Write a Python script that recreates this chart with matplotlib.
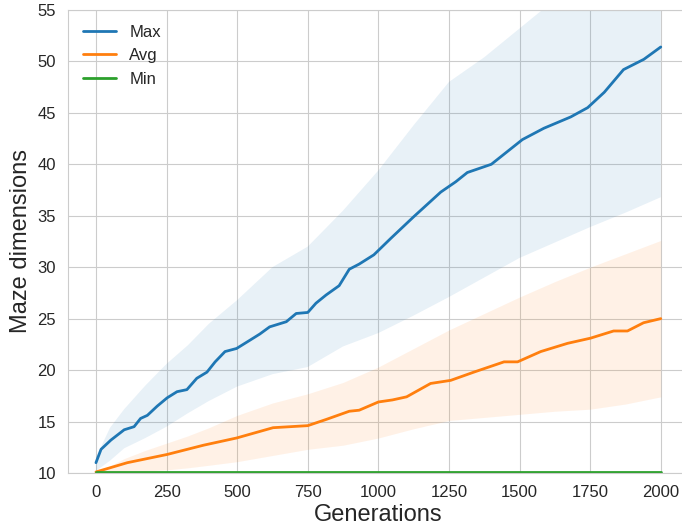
import numpy as np
import seaborn as sns
import matplotlib
matplotlib.use('Agg')
import matplotlib.pyplot as plt

# values
gens_max = [0, 18, 53, 100, 135, 158, 182, 217, 252, 287, 322, 357, 393, 422, 457, 498,
            545, 580, 615, 674, 709, 750, 779, 815, 861, 897, 932, 984, 1044, 1125, 1221,
            1274, 1315, 1400, 1510, 1586, 1681, 1741, 1800, 1868, 1940, 2000]
max_vals = [11.0, 12.3, 13.2, 14.2, 14.5, 15.3, 15.6, 16.5, 17.3, 17.9, 18.1, 19.2, 19.8, 20.8,
            21.8, 22.1, 22.9, 23.5, 24.2, 24.7, 25.5, 25.6, 26.5, 27.3, 28.2, 29.8, 30.3, 31.2,
            32.8, 34.9, 37.3, 38.3, 39.2, 40.0, 42.4, 43.5, 44.6, 45.5, 47.0, 49.2, 50.2, 51.4]

gens_avg = [0, 111, 252, 381, 498, 627, 750, 815, 897, 932, 1000, 1050, 1100, 1185, 1256,
            1338, 1445, 1493, 1575, 1670, 1751, 1833, 1882, 1939, 2000]
avg_vals = [10.1, 11.0, 11.8, 12.7, 13.4, 14.4, 14.6, 15.2, 16.0, 16.1, 16.9, 17.1, 17.4, 18.7,
            19.0, 19.8, 20.8, 20.8, 21.8, 22.6, 23.1, 23.8, 23.8, 24.6, 25.0]

gens_min = [0, 2000]
min_vals = [10.1, 10.1]

# spread bands
gens_band = [0, 50, 100, 175, 250, 325, 400, 500, 625, 750, 875, 1000, 1125, 1250,
             1375, 1500, 1625, 1750, 1875, 2000]
max_hi = [11.5, 14.4, 16.2, 18.5, 20.6, 22.4, 24.5, 26.8, 30.0, 32.0, 35.5, 39.4, 43.8, 48.0,
          50.4, 53.2, 56.0, 58.0, 60.0, 62.0]
max_lo = [10.2, 11.2, 12.4, 13.4, 14.5, 15.8, 17.0, 18.4, 19.6, 20.3, 22.3, 23.6, 25.3, 27.1,
          29.0, 30.9, 32.4, 33.9, 35.3, 36.8]
avg_hi = [10.2, 10.7, 11.4, 12.2, 12.9, 13.6, 14.4, 15.6, 16.8, 17.7, 18.8, 20.3, 22.1, 23.9,
          25.5, 27.1, 28.6, 30.0, 31.3, 32.6]
avg_lo = [10.05, 10.1, 10.15, 10.2, 10.3, 10.5, 10.75, 11.1, 11.7, 12.3, 12.7, 13.4, 14.3, 15.1,
          15.4, 15.7, 16.0, 16.2, 16.7, 17.4]

sns.set_style('whitegrid')
plt.rcParams['font.family'] = ['Liberation Sans', 'DejaVu Sans']

fig = plt.figure(figsize=(6.82, 5.28), dpi=100)
ax = fig.add_axes([0.0993, 0.1042, 0.911, 0.877])

ax.fill_between(gens_band, max_lo, max_hi, color='C0', alpha=0.1, linewidth=0)
ax.fill_between(gens_band, avg_lo, avg_hi, color='C1', alpha=0.1, linewidth=0)

ax.plot(gens_max, max_vals, color='C0', lw=2, label='Max')
ax.plot(gens_avg, avg_vals, color='C1', lw=2, label='Avg')
ax.plot(gens_min, min_vals, color='C2', lw=2, label='Min')

ax.set_xlim(-100, 2100)
ax.set_ylim(10, 55)
ax.set_xticks(np.arange(0, 2001, 250))
ax.set_yticks(np.arange(10, 56, 5))
ax.tick_params(labelsize=12, pad=5)

ax.set_xlabel('Generations', fontsize=17, labelpad=3)
ax.set_ylabel('Maze dimensions', fontsize=17)

ax.legend(loc='upper left', fontsize=12, frameon=False)

fig.savefig('out.png', dpi=100)
